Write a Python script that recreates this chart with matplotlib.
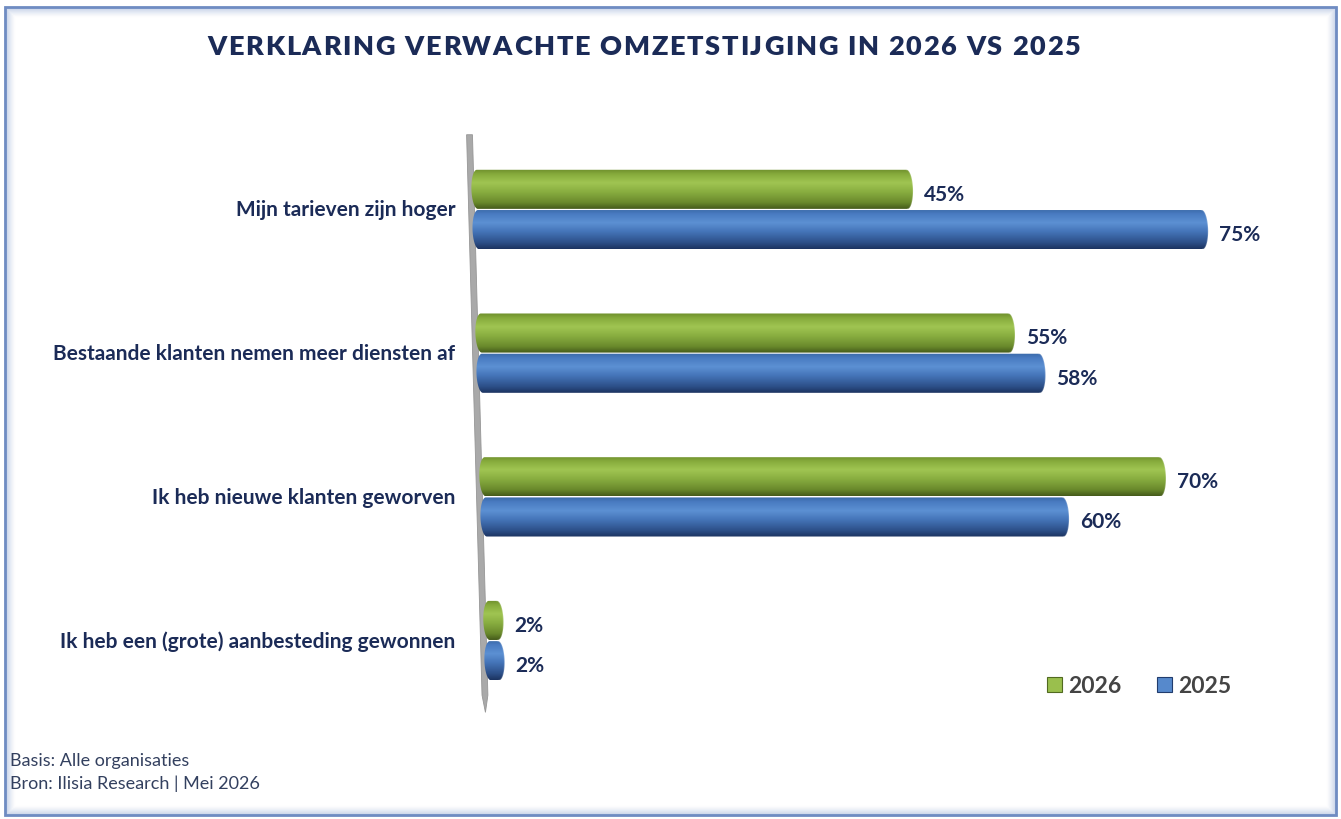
import numpy as np
import matplotlib
matplotlib.use("Agg")
import matplotlib.pyplot as plt
from matplotlib.patches import Polygon, Rectangle, Patch
from matplotlib.transforms import Affine2D
from matplotlib.colors import LinearSegmentedColormap, to_rgb
from matplotlib.font_manager import FontProperties

# ---------------- data ----------------
categories = [
    "Mijn tarieven zijn hoger",
    "Bestaande klanten nemen meer diensten af",
    "Ik heb nieuwe klanten geworven",
    "Ik heb een (grote) aanbesteding gewonnen",
]
values_2026 = [45, 55, 70, 2]
values_2025 = [75, 58, 60, 2]
series_names = ["2026", "2025"]
title = "VERKLARING VERWACHTE OMZETSTIJGING IN 2026 VS 2025"
footer_lines = ["Basis: Alle organisaties", "Bron: Ilisia Research | Mei 2026"]

# ---------------- style ----------------
W, H = 1341, 820
DPI = 100
NAVY = "#1b2b57"
FONT = "Lato"
plt.rcParams["font.family"] = [FONT, "DejaVu Sans"]

green_stops = ["#6f8f2c", "#86ab3c", "#a0c552", "#8aaf41", "#6a8a2c", "#465c1b"]
blue_stops = ["#3b6aa9", "#4a7cc2", "#5c90d3", "#4575b9", "#2d5089", "#1c3461"]
stop_pos = [0.0, 0.12, 0.34, 0.56, 0.84, 1.0]


def make_cmap(stops):
    return LinearSegmentedColormap.from_list(
        "c", list(zip(stop_pos, [to_rgb(c) for c in stops])))


cmaps = [make_cmap(green_stops), make_cmap(blue_stops)]

fig = plt.figure(figsize=(W / DPI, H / DPI), dpi=DPI)
fig.patch.set_facecolor("white")

# axes geometry (pixels)
left_px, top_px, bottom_px = 472, 138.6, 713.4
px_per_unit = 9.8
xmax = 86
ax = fig.add_axes([left_px / W, 1 - bottom_px / H,
                   xmax * px_per_unit / W, (bottom_px - top_px) / H])
ax.set_xlim(0, xmax)
ax.set_ylim(len(categories) - 0.5, -0.5)
ax.set_autoscale_on(False)
for s in ax.spines.values():
    s.set_visible(False)
ax.set_xticks([])
ax.set_yticks(range(len(categories)), categories)
ax.tick_params(axis="y", length=0, pad=12)
for lab in ax.get_yticklabels():
    lab.set_fontweight("bold")
    lab.set_fontsize(15)
    lab.set_color(NAVY)
    lab.set_va("center")
ax.patch.set_alpha(0)

# perspective skew (display space): baseline leans to the right going down
k = 13.0 / 472.0
Y0 = H - 190
skew = Affine2D().translate(0, -Y0).skew(np.arctan(-k), 0).translate(0, Y0)
T = ax.transData + skew

# gray axis wall line (tapered at the bottom)
n = len(categories)
wall_x = [-0.4, 0.2, 0.2, -0.1, -0.4]
wall_y = [-0.52, -0.52, n - 0.62, n - 0.5, n - 0.62]
wall = Polygon(np.column_stack([wall_x, wall_y]), closed=True, transform=T,
               facecolor="#a9a9a9", edgecolor="#969696", lw=0.6, zorder=1,
               clip_on=False)
ax.add_patch(wall)

bar_h = 0.28
cap = 0.6
grad = np.linspace(0, 1, 64)


def draw_cylinder(yc, v, cmap, z):
    hh = bar_h / 2 - 0.004
    xr = max(v - cap, cap)
    xl = cap * 0.9
    t1 = np.linspace(-np.pi / 2, np.pi / 2, 40)
    t2 = np.linspace(np.pi / 2, 3 * np.pi / 2, 40)
    xs = np.concatenate([xr + cap * np.cos(t1), xl + cap * np.cos(t2)])
    ys = np.concatenate([yc + hh * np.sin(t1), yc + hh * np.sin(t2)])
    poly = Polygon(np.column_stack([xs, ys]), closed=True, transform=T,
                   facecolor="none", edgecolor="none", zorder=z)
    ax.add_patch(poly)
    img = cmap(grad)[:, None, :3]
    im = ax.imshow(img, extent=(xl - cap, xr + cap, yc + hh, yc - hh),
                   origin="upper", aspect="auto", interpolation="bilinear",
                   zorder=z)
    im.set_transform(T)
    im.set_clip_box(fig.bbox)
    im.set_clip_path(poly)
    # subtle end cap rim
    tc = np.linspace(-np.pi / 2, np.pi / 2, 40)
    ax.plot(xr + cap * np.cos(tc), yc + hh * np.sin(tc), transform=T,
            color="white", alpha=0.22, lw=1, zorder=z + 0.1, clip_on=False)


for si, vals in enumerate([values_2026, values_2025]):
    offs = -bar_h / 2 if si == 0 else bar_h / 2
    for ci, v in enumerate(vals):
        yc = ci + offs
        draw_cylinder(yc, v, cmaps[si], 3)
        ax.text(v + 1.1, yc + 0.03, f"{v}%", transform=T, ha="left",
                va="center", fontsize=15, fontweight="bold", color=NAVY,
                zorder=5)

# legend
handles = [Patch(facecolor=cmaps[i](0.4), edgecolor=cmaps[i](0.95), lw=0.8)
           for i in range(2)]
leg = fig.legend(handles, series_names, loc="center left",
                 bbox_to_anchor=(1036 / W, 1 - 687 / H), ncol=2,
                 frameon=False, handlelength=0.62, handleheight=0.62,
                 handletextpad=0.3, columnspacing=1.55, borderpad=0,
                 prop={"family": FONT, "weight": "bold", "size": 16.5})
for t in leg.get_texts():
    t.set_color("#444444")

# title with letter spacing
fig.canvas.draw()
r = fig.canvas.get_renderer()
tp = FontProperties(family=FONT, weight="heavy", size=19.5)
widths = [r.get_text_width_height_descent(ch, tp, ismath=False)[0]
          for ch in title]
title_left, title_right = 207, 1080
track = (title_right - title_left - sum(widths)) / (len(title) - 1)
x = title_left
for ch, w in zip(title, widths):
    fig.text(x / W, 1 - 47 / H, ch, fontproperties=tp, color=NAVY,
             ha="left", va="center")
    x += w + track

# footer
for i, line in enumerate(footer_lines):
    fig.text(10 / W, 1 - (761 + 23 * i) / H, line, fontsize=13,
             color="#33405f", ha="left", va="center")

# frame with inner glow
fx0, fy0, fx1, fy1 = 5, 8, 1336, 816
for i in range(10):
    a = 0.45 * (1 - i / 10) ** 1.5
    fig.patches.append(Rectangle(
        ((fx0 + i) / W, 1 - (fy1 - i) / H),
        (fx1 - fx0 - 2 * i) / W, (fy1 - fy0 - 2 * i) / H,
        transform=fig.transFigure, fill=False, edgecolor="#8fa6d3",
        lw=1.0, alpha=a, zorder=0))
fig.patches.append(Rectangle((fx0 / W, 1 - fy1 / H), (fx1 - fx0) / W,
                             (fy1 - fy0) / H, transform=fig.transFigure,
                             fill=False, edgecolor="#6f8cc2", lw=2,
                             zorder=0))

fig.savefig("out.png", dpi=DPI)
